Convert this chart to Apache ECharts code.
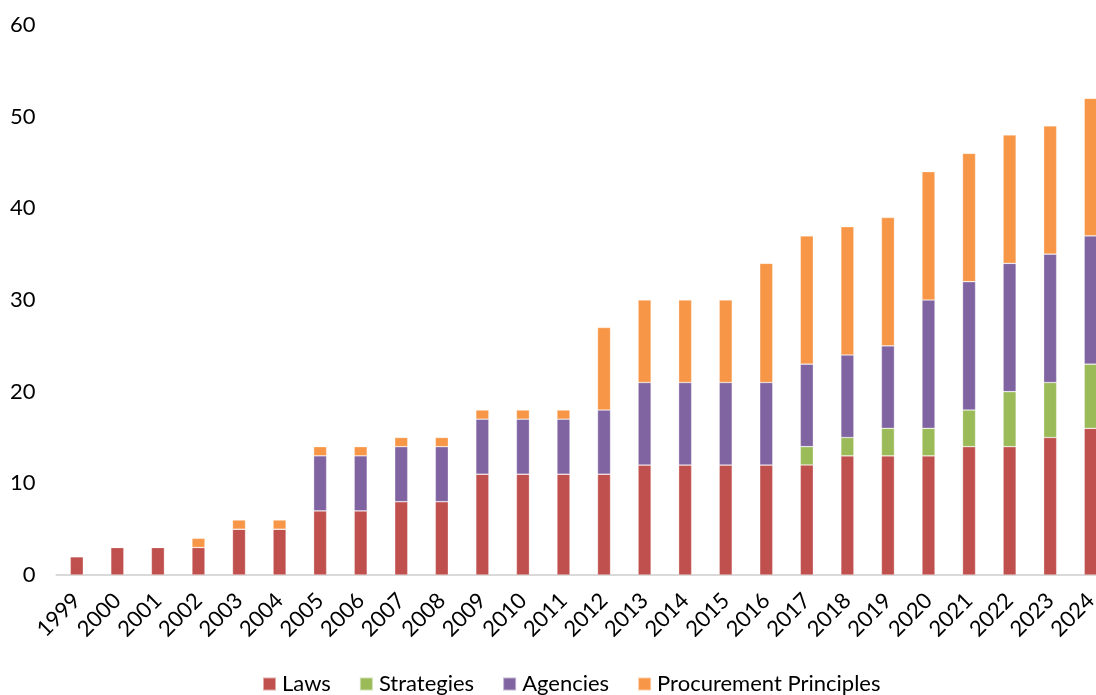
<!DOCTYPE html>
<html>
<head>
<meta charset="utf-8">
<script src="https://cdn.jsdelivr.net/npm/echarts@6/dist/echarts.min.js"></script>
<style>
  html, body { margin: 0; padding: 0; background: #fff; }
  #chart { width: 1096px; height: 695px; }
</style>
</head>
<body>
<div id="chart"></div>
<script>
// Years shown on the category axis
const years = ['1999','2000','2001','2002','2003','2004','2005','2006','2007','2008','2009','2010','2011','2012','2013','2014','2015','2016','2017','2018','2019','2020','2021','2022','2023','2024'];

// Stacked counts per year
const laws        = [2, 3, 3, 3, 5, 5, 7, 7, 8, 8, 11, 11, 11, 11, 12, 12, 12, 12, 12, 13, 13, 13, 14, 14, 15, 16];
const strategies  = [0, 0, 0, 0, 0, 0, 0, 0, 0, 0, 0, 0, 0, 0, 0, 0, 0, 0, 2, 2, 3, 3, 4, 6, 6, 7];
const agencies    = [0, 0, 0, 0, 0, 0, 6, 6, 6, 6, 6, 6, 6, 7, 9, 9, 9, 9, 9, 9, 9, 14, 14, 14, 14, 14];
const procurement = [0, 0, 0, 1, 1, 1, 1, 1, 1, 1, 1, 1, 1, 9, 9, 9, 9, 13, 14, 14, 14, 14, 14, 14, 14, 15];

// Y axis ticks
const yTicks = [0, 10, 20, 30, 40, 50, 60];

const FONT = 'Lato, "Open Sans", sans-serif';

function barSeries(name, data, color) {
  return {
    name: name,
    type: 'bar',
    stack: 'total',
    barWidth: 13,
    data: data,
    itemStyle: { color: color, borderColor: 'rgba(255,255,255,0.5)', borderWidth: 0.6 }
  };
}

const chart = echarts.init(document.getElementById('chart'));
chart.setOption({
  animation: false,
  textStyle: { fontFamily: FONT },
  // the plot area runs a little past the right edge, so the last bar is cut
  grid: { left: 56.5, top: 25, right: -15, bottom: 120, containLabel: false, outerBoundsMode: 'none' },
  legend: {
    top: 668,
    left: 257,
    itemWidth: 13,
    itemHeight: 13,
    itemGap: 28,
    icon: 'rect',
    textStyle: { fontFamily: FONT, fontSize: 22, color: '#000', padding: [0, 0, 0, 1] },
    data: ['Laws', 'Strategies', 'Agencies', 'Procurement Principles']
  },
  xAxis: {
    type: 'category',
    data: years,
    axisLine: { lineStyle: { color: '#d9d9d9', width: 2 } },
    axisTick: { show: false },
    axisLabel: { rotate: 45, color: '#000', fontSize: 22, fontFamily: FONT, margin: 22, interval: 0 }
  },
  yAxis: {
    type: 'value',
    min: yTicks[0],
    max: yTicks[yTicks.length - 1],
    interval: 10,
    splitLine: { show: false },
    axisLine: { show: false },
    axisTick: { show: false },
    axisLabel: { color: '#000', fontSize: 22, fontFamily: FONT, margin: 21 }
  },
  series: [
    barSeries('Laws', laws, '#C0504D'),
    barSeries('Strategies', strategies, '#9BBB59'),
    barSeries('Agencies', agencies, '#8064A2'),
    barSeries('Procurement Principles', procurement, '#F79646')
  ]
});
</script>
</body>
</html>
